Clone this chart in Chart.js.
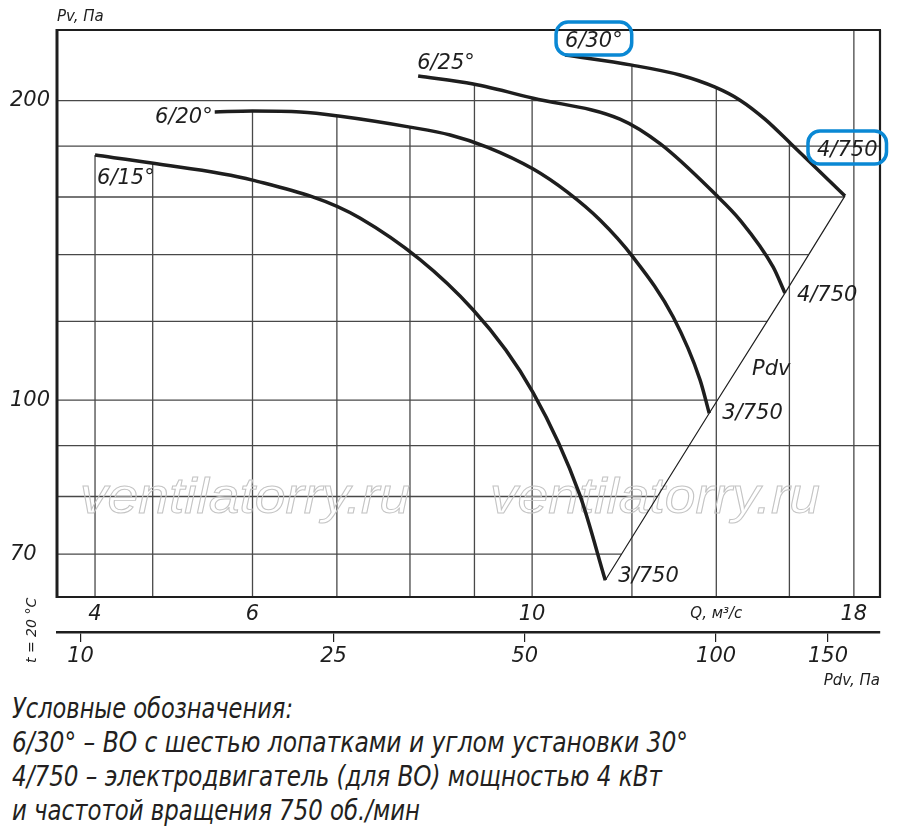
<!DOCTYPE html>
<html lang="ru">
<head>
<meta charset="utf-8">
<title>Pv – Q</title>
<script src="https://cdn.jsdelivr.net/npm/chart.js@4.4.1/dist/chart.umd.min.js"></script>
<style>
  html, body { margin: 0; background: #fff; }
  body { width: 900px; height: 833px; position: relative; overflow: hidden; }
  #chart { position: absolute; left: 0; top: 0; }
  #notes {
    position: absolute; left: 12px; top: 692px;
    font: italic 28px/34px "Liberation Sans Narrow", "DejaVu Sans Condensed", "Liberation Sans", sans-serif;
    color: #231f20; white-space: nowrap;
  }
  #notes span { display: inline-block; transform-origin: 0 50%; }
</style>
</head>
<body>
<canvas id="chart" width="900" height="692"></canvas>
<div id="notes">
  <div><span>Условные обозначения:</span></div>
  <div><span>6/30° – ВО с шестью лопатками и углом установки 30°</span></div>
  <div><span>4/750 – электродвигатель (для ВО) мощностью 4 кВт</span></div>
  <div><span>и частотой вращения 750 об./мин</span></div>
</div>
<script>
// values: Q in m³/s, Pv in Pa
const q15 = [4.5, 4.99, 6.0, 7.3, 8.98, 10.02, 10.91, 11.43];
const p15 = [176.3, 173.1, 166.4, 152.4, 123.2, 101.7, 80.3, 65.9];

const q20 = [5.6, 6.0, 6.55, 7.02, 8.0, 8.61, 9.21, 10.02, 10.66, 11.32, 12.02, 12.94, 13.59, 13.82];
const p20 = [194.8, 195.2, 194.8, 193.0, 188.1, 184.7, 179.6, 170.7, 161.9, 151.7, 139.3, 121.2, 104.8, 97.0];

const q25 = [8.12, 8.98, 10.02, 11.74, 12.64, 13.97, 14.62, 15.53, 15.87];
const p25 = [211.7, 207.8, 201.1, 191.6, 180.9, 161.1, 151.7, 136.1, 128.1];

const q30 = [10.62, 12.0, 13.1, 13.97, 14.62, 15.3, 16.05, 16.83, 17.71];
const p30 = [222.2, 217.1, 212.2, 206.3, 200.2, 191.6, 180.9, 170.7, 160.4];

// dynamic pressure line through the curve ends
const pdvQ = [11.43, 13.82, 15.87, 17.71];
const pdvP = [65.9, 97.0, 128.1, 160.4];

const curveNames = ['6/15°', '6/20°', '6/25°', '6/30°'];
const motorNames = ['3/750', '3/750', '4/750', '4/750'];

const qTicks = [4.5, 5, 6, 7, 8, 9, 10, 12, 14, 16, 18];
const qTickText = ['4', '', '6', '', '', '', '10', '', 'Q, м³/с', '', '18'];
const pTicks = [70, 80, 90, 100, 120, 140, 160, 180, 200];
const pTickText = ['70', '', '', '100', '', '', '', '', '200'];
const pdvTicks = [10, 25, 50, 100, 150];
const uncutRows = [90, 180];   // these grid rows run the full width on the sheet

const INK = '#1e1e1e';
const FONT = '"DejaVu Sans", "Liberation Sans", sans-serif';
const BLUE = '#0a88d4';

const pts = (qs, ps) => qs.map((q, i) => ({ x: q, y: ps[i] }));

const datasets = [[q15, p15], [q20, p20], [q25, p25], [q30, p30]].map(([q, p], i) => ({
  label: curveNames[i],
  data: pts(q, p),
  borderColor: INK,
  borderWidth: 3.5,
  pointRadius: 0,
  cubicInterpolationMode: 'monotone',
  fill: false
}));
datasets.push({
  label: 'Pdv',
  data: pts(pdvQ, pdvP),
  borderColor: INK,
  borderWidth: 1.2,
  pointRadius: 0,
  tension: 0,
  fill: false
});

function yOnPath(path, x) {
  for (let i = 0; i < path.length - 1; i++) {
    const a = path[i], b = path[i + 1];
    if (x >= Math.min(a.x, b.x) - 0.01 && x <= Math.max(a.x, b.x) + 0.01) {
      const t = b.x === a.x ? 0 : (x - a.x) / (b.x - a.x);
      return a.y + t * (b.y - a.y);
    }
  }
  return null;
}

function xOnPath(path, y) {
  let best = null;
  for (let i = 0; i < path.length - 1; i++) {
    const a = path[i], b = path[i + 1];
    if (a.y !== b.y && y >= Math.min(a.y, b.y) && y <= Math.max(a.y, b.y)) {
      const x = a.x + (y - a.y) / (b.y - a.y) * (b.x - a.x);
      if (best === null || x > best) best = x;
    }
  }
  return best;
}

function seg(ctx, x1, y1, x2, y2) {
  ctx.beginPath();
  ctx.moveTo(x1, y1);
  ctx.lineTo(x2, y2);
  ctx.stroke();
}

function label(ctx, s, x, y, size, align) {
  ctx.font = `italic ${size}px ${FONT}`;
  ctx.textAlign = align || 'left';
  ctx.textBaseline = 'alphabetic';
  ctx.fillStyle = INK;
  ctx.fillText(s, x, y);
  return ctx.measureText(s).width;
}

function boxed(ctx, s, x, y, size) {
  const w = label(ctx, s, x, y, size);
  ctx.save();
  ctx.strokeStyle = BLUE;
  ctx.lineWidth = 3.5;
  ctx.beginPath();
  ctx.roundRect(x - 9, y - 25, w + 18, 33, 12);
  ctx.stroke();
  ctx.restore();
}

function watermark(ctx, cx, base) {
  const s = 'ventilatorry.ru';
  ctx.save();
  ctx.font = 'italic 50px "Liberation Sans", Arial, sans-serif';
  const w = ctx.measureText(s).width;
  ctx.translate(cx, base);
  ctx.scale(330 / w, 1);
  ctx.textAlign = 'center';
  ctx.strokeStyle = '#c4c4c4';
  ctx.lineWidth = 1.1 * w / 330;
  ctx.strokeText(s, 0, 0);
  ctx.restore();
}

// grid lines stop where they meet the outermost curve, as on the sheet
const sheetGrid = {
  id: 'sheetGrid',
  beforeDatasetsDraw(chart) {
    const { ctx, chartArea: a, scales } = chart;
    const paths = chart.data.datasets.map((d, i) => chart.getDatasetMeta(i).data);
    const curves = paths.slice(0, 4);
    ctx.save();
    ctx.strokeStyle = '#484848';
    ctx.lineWidth = 1.3;
    qTicks.forEach(v => {
      const x = scales.x.getPixelForValue(v);
      let top = null;
      curves.forEach(p => {
        const y = yOnPath(p, x);
        if (y !== null && (top === null || y < top)) top = y;
      });
      seg(ctx, x, a.bottom, x, top === null ? a.top : top);
    });
    pTicks.forEach(v => {
      const y = scales.y.getPixelForValue(v);
      let right = null;
      if (!uncutRows.includes(v)) {
        paths.forEach(p => {
          const x = xOnPath(p, y);
          if (x !== null && (right === null || x > right)) right = x;
        });
      }
      seg(ctx, a.left, y, right === null ? a.right : right, y);
    });
    ctx.restore();
    watermark(ctx, 245, 513);
    watermark(ctx, 655, 513);
  },
  afterDatasetsDraw(chart) {
    const { ctx, chartArea: a } = chart;
    ctx.save();
    ctx.strokeStyle = INK;
    ctx.lineWidth = 2.2;
    seg(ctx, a.left, a.top, a.right + 1, a.top);
    seg(ctx, a.right, a.top, a.right, a.bottom + 1);
    seg(ctx, a.left, a.bottom, a.right + 1, a.bottom);
    ctx.lineWidth = 3;
    seg(ctx, a.left, a.top - 1, a.left, a.bottom + 1);

    const meta = i => chart.getDatasetMeta(i).data;
    const first = i => meta(i)[0];
    const last = i => meta(i)[meta(i).length - 1];

    let p = first(0); label(ctx, curveNames[0], p.x + 2, p.y + 29, 21);
    p = first(1); label(ctx, curveNames[1], p.x - 2, p.y + 11, 21, 'right');
    p = first(2); label(ctx, curveNames[2], p.x - 1, p.y - 7, 21);
    p = first(3); boxed(ctx, curveNames[3], p.x, p.y - 8, 21);

    p = last(0); label(ctx, motorNames[0], p.x + 13, p.y + 2, 21);
    p = last(1); label(ctx, motorNames[1], p.x + 13, p.y + 6, 21);
    p = last(2); label(ctx, motorNames[2], p.x + 12, p.y + 8, 21);
    p = last(3); boxed(ctx, motorNames[3], p.x - 28, p.y - 40, 21);

    const d = meta(4);
    label(ctx, 'Pdv', (d[1].x + d[2].x) / 2 + 5, (d[1].y + d[2].y) / 2 + 22, 21);

    label(ctx, 'Pv, Па', a.left, 21, 15);
    ctx.translate(36, 663);
    ctx.rotate(-Math.PI / 2);
    label(ctx, 't = 20 °C', 0, 0, 14);
    ctx.restore();
  }
};

const bigFont = { family: FONT, size: 21, style: 'italic' };
const smallFont = { family: FONT, size: 15, style: 'italic', lineHeight: 1.68 };

new Chart(document.getElementById('chart'), {
  type: 'line',
  data: { datasets },
  plugins: [sheetGrid],
  options: {
    responsive: false,
    animation: false,
    events: [],
    layout: { padding: { left: 10, right: 20, top: 30, bottom: 0 } },
    plugins: { legend: { display: false }, tooltip: { enabled: false } },
    scales: {
      x: {
        type: 'logarithmic', position: 'bottom', min: 4.198, max: 18.88, bounds: 'data',
        grid: { display: false, drawTicks: false },
        border: { display: false },
        afterBuildTicks: s => { s.ticks = qTicks.map(v => ({ value: v })); },
        afterFit: s => { s.height = 35; },
        ticks: {
          autoSkip: false, maxRotation: 0, padding: 5, color: INK,
          callback: (v, i) => qTickText[i],
          font: c => (qTickText[c.index] || '').length > 3 ? smallFont : bigFont
        }
      },
      y: {
        type: 'logarithmic', position: 'left', min: 63.4, max: 235.5, bounds: 'data',
        grid: { display: false, drawTicks: false },
        border: { display: false },
        afterBuildTicks: s => { s.ticks = pTicks.map(v => ({ value: v })); },
        afterFit: s => { s.width = 47; },
        ticks: {
          autoSkip: false, crossAlign: 'far', padding: 0, color: INK,
          callback: (v, i) => pTickText[i],
          font: bigFont
        }
      },
      x2: {
        type: 'logarithmic', position: 'bottom', weight: 1, min: 9.18, max: 181.1, bounds: 'data',
        grid: { display: true, drawOnChartArea: false, drawTicks: true, tickLength: 10, color: INK, lineWidth: 1.2 },
        border: { display: true, color: INK, width: 2.5 },
        afterBuildTicks: s => { s.ticks = pdvTicks.map(v => ({ value: v })); },
        afterFit: s => { s.height = 60; },
        ticks: {
          autoSkip: false, maxRotation: 0, padding: 2, color: INK,
          callback: (v, i) => String(pdvTicks[i]),
          font: bigFont
        },
        title: {
          display: true, text: 'Pdv, Па', align: 'end', color: INK,
          font: { family: FONT, size: 15, style: 'italic' },
          padding: { top: 0, bottom: 2 }
        }
      }
    }
  }
});

// squeeze the legend lines to the widths they have on the sheet
const noteWidths = [281, 676, 650, 408];
document.fonts.ready.then(() => {
  document.querySelectorAll('#notes span').forEach((s, i) => {
    const w = s.getBoundingClientRect().width;
    s.style.transform = `scaleX(${noteWidths[i] / w})`;
  });
});
</script>
</body>
</html>
